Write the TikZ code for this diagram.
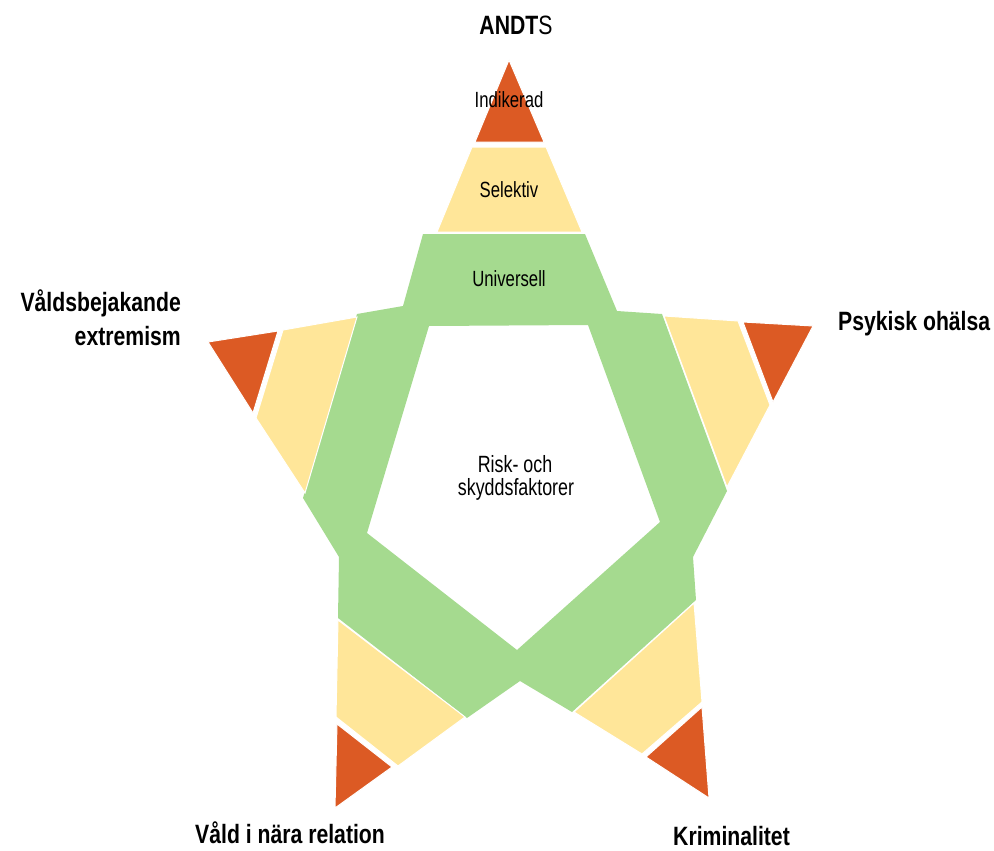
\documentclass[tikz,border=0pt]{standalone}
\usepackage{fontspec}
\setmainfont{Liberation Sans}
\newfontfamily\labA[FakeStretch=0.8]{Liberation Sans}
\newfontfamily\labB[FakeStretch=0.76]{Liberation Sans}
\definecolor{grn}{RGB}{165,218,143}
\definecolor{ylw}{RGB}{255,230,153}
\definecolor{rd}{RGB}{220,90,36}
\tikzset{
  bigl/.style={font=\labA\bfseries\fontsize{26.5}{33}\selectfont, inner sep=0pt, text=black},
  smalll/.style={font=\labB\fontsize{22}{26}\selectfont, inner sep=0pt, anchor=base, text=black},
  riskl/.style={font=\labB\fontsize{23.5}{23}\selectfont, inner sep=0pt, anchor=base, text=black, align=center},
  band/.style={fill=grn, draw=none},
  mid/.style={fill=ylw, draw=white, line width=1pt},
  tip/.style={fill=rd, draw=white, line width=1pt}
}
\begin{document}
\begin{tikzpicture}[x=1pt,y=-1pt]
\useasboundingbox (0,0) rectangle (994,851);
% green ring
\fill[band, even odd rule]
  (423,234) -- (585,234) -- (617,311) -- (662,314) -- (727,491) -- (693,557) -- (696,600)
  -- (572,712) -- (520,681) -- (467,718) -- (338,618) -- (339,557) -- (303,498)
  -- (357,314) -- (403,306) -- cycle
  (429,326) -- (588,325) -- (660,522) -- (517,650) -- (367,533) -- cycle;
% top arm
\fill[mid] (472,147) -- (546,147) -- (582,232) -- (437,232) -- cycle;
\fill[tip] (509,60) -- (544,142) -- (475,142) -- cycle;
% right arm
\fill[mid] (664,316) -- (738,321) -- (770,405) -- (727,487) -- cycle;
\fill[tip] (743,322) -- (813,326) -- (773,402) -- cycle;
% left arm
\fill[mid] (283,330) -- (357,317) -- (305,493) -- (256,418) -- cycle;
\fill[tip] (208,342) -- (278,331) -- (253,413) -- cycle;
% bottom-left arm
\fill[mid] (338,620) -- (465,717) -- (398,766) -- (336,717) -- cycle;
\fill[tip] (337,724) -- (392,767) -- (335,808) -- cycle;
% bottom-right arm
\fill[mid] (694,603) -- (702,702) -- (642,754) -- (574,712) -- cycle;
\fill[tip] (702,707) -- (709,798) -- (646,757) -- cycle;
% labels
\node[bigl, anchor=base] (andts) at (516,35) {ANDT\mdseries S};
\node[bigl, anchor=base west] (psyk) at (838,330) {Psykisk ohälsa};
\node[bigl, anchor=base east, align=right] (vbe) at (181,345) {Våldsbejakande\\[1pt]extremism};
\node[bigl, anchor=base west] (vinr) at (195,843) {Våld i nära relation};
\node[bigl, anchor=base west] (krim) at (673,845) {Kriminalitet};
\node[smalll] (ind) at (509,107) {Indikerad};
\node[smalll] (sel) at (509,197) {Selektiv};
\node[smalll] (uni) at (509,286) {Universell};
\node[riskl] (risk1) at (515,472) {Risk- och};
\node[riskl] (risk2) at (516,495) {skyddsfaktorer};
\end{tikzpicture}
\end{document}
